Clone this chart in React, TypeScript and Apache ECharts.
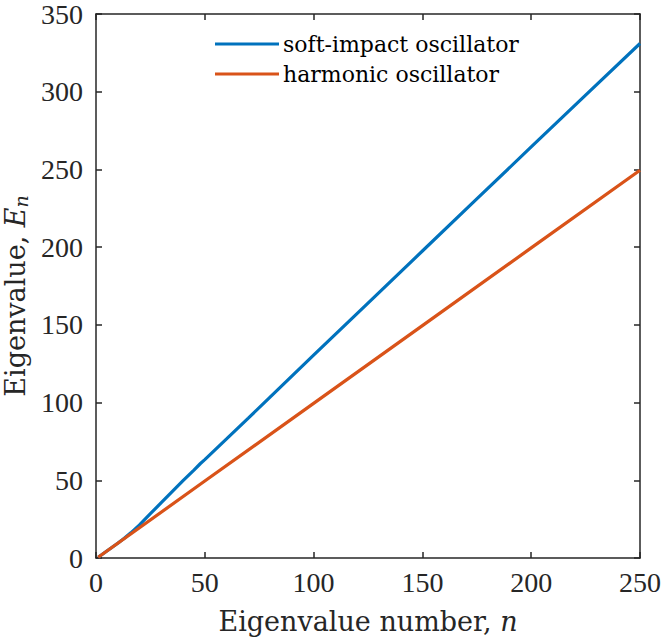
import React, { useEffect, useRef } from "react";
import * as echarts from "echarts";

const softN = [1, 5, 10, 13, 16, 20, 25, 30, 35, 40, 45, 48, 50, 60, 70, 80, 100, 125, 150, 175, 200, 225, 250];
const softE = [0.5, 4.5, 9.5, 12.7, 16.2, 21.3, 28.5, 35.6, 42.7, 49.8, 56.6, 60.8, 63.3, 76.6, 90, 103.5, 130.5, 164, 197.5, 231, 264.5, 297.8, 331];
const harmN = [1, 50, 100, 150, 200, 250];
const harmE = [0.5, 49.5, 99.5, 149.5, 199.5, 249.5];
const seriesNames = ["soft-impact oscillator", "harmonic oscillator"];
const xTicks = [0, 50, 100, 150, 200, 250];
const yTicks = [0, 50, 100, 150, 200, 250, 300, 350];

const TICKFONT = "'Liberation Serif', 'Times New Roman', serif";
const FONT = "'DejaVu Serif', serif";
const AX = "#262626";

export default function App() {
  const ref = useRef<HTMLDivElement>(null);
  useEffect(() => {
    document.body.style.margin = "0";
    const chart = echarts.init(ref.current!, null, { renderer: "svg" });
    const axisCommon = {
      axisLine: { show: true, onZero: false, lineStyle: { color: AX, width: 1.5 } },
      axisTick: { show: true, inside: true, length: 6, lineStyle: { color: AX, width: 1.5 } },
      splitLine: { show: false },
    };
    chart.setOption({
      animation: false,
      backgroundColor: "#fff",
      grid: { left: 96, right: 24, top: 14, bottom: 81, containLabel: false, outerBoundsMode: "none" },
      legend: {
        top: 28,
        left: 210,
        orient: "vertical",
        itemWidth: 64,
        itemHeight: 3,
        itemGap: 8,
        icon: "rect",
        textStyle: { fontFamily: FONT, fontSize: 22, color: "#000", padding: [0, 0, 0, -1] },
        data: seriesNames,
      },
      xAxis: [
        {
          type: "value",
          min: 0,
          max: 250,
          interval: 50,
          ...axisCommon,
          axisLabel: { fontFamily: TICKFONT, fontSize: 28, lineHeight: 24, color: AX, margin: 12, formatter: (v: number) => (xTicks.includes(v) ? String(v) : "") },
          name: "Eigenvalue number, {i|n}",
          nameLocation: "middle",
          nameGap: 50,
          nameTextStyle: {
            fontFamily: FONT,
            fontSize: 27,
            color: AX,
            rich: { i: { fontFamily: FONT, fontStyle: "italic", fontSize: 27, color: AX } },
          },
        },
        {
          type: "value",
          position: "top",
          min: 0,
          max: 250,
          interval: 50,
          ...axisCommon,
          axisLabel: { show: false },
        },
      ],
      yAxis: [
        {
          type: "value",
          min: 0,
          max: 350,
          interval: 50,
          ...axisCommon,
          axisLabel: { fontFamily: TICKFONT, fontSize: 28, lineHeight: 24, color: AX, margin: 13, formatter: (v: number) => (yTicks.includes(v) ? String(v) : "") },
          name: "Eigenvalue, {i|E}{s|n}",
          nameLocation: "middle",
          nameRotate: 90,
          nameGap: 66,
          nameTextStyle: {
            fontFamily: FONT,
            fontSize: 27,
            color: AX,
            padding: [0, 20, 0, 0],
            rich: {
              i: { fontFamily: FONT, fontStyle: "italic", fontSize: 27, color: AX },
              s: { fontFamily: FONT, fontStyle: "italic", fontSize: 19, color: AX, verticalAlign: "bottom", padding: [10, 0, 0, 0] },
            },
          },
        },
        {
          type: "value",
          position: "right",
          min: 0,
          max: 350,
          interval: 50,
          ...axisCommon,
          axisLabel: { show: false },
        },
      ],
      series: [
        {
          name: seriesNames[0],
          type: "line",
          showSymbol: false,
          symbol: "none",
          data: softN.map((n, i) => [n, softE[i]]),
          lineStyle: { color: "#0072BD", width: 3.2 },
          itemStyle: { color: "#0072BD" },
          z: 3,
        },
        {
          name: seriesNames[1],
          type: "line",
          showSymbol: false,
          symbol: "none",
          data: harmN.map((n, i) => [n, harmE[i]]),
          lineStyle: { color: "#D95319", width: 3.2 },
          itemStyle: { color: "#D95319" },
          z: 4,
        },
      ],
    });
    return () => chart.dispose();
  }, []);
  return <div ref={ref} style={{ width: 664, height: 639 }} />;
}
